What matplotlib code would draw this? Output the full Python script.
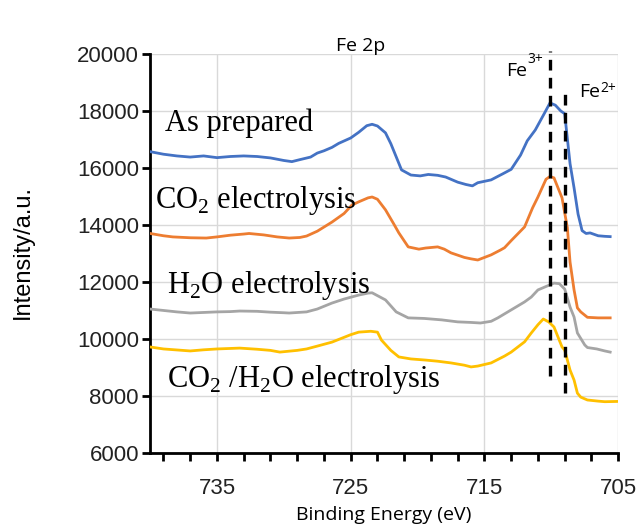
import matplotlib
matplotlib.use("Agg")
import matplotlib.pyplot as plt
from matplotlib.ticker import FixedLocator, NullFormatter

# Fe 2p XPS spectra (binding energy in eV, intensity in a.u.)
be_prepared = [740.0, 739.0, 738.0, 737.0, 736.0, 735.0, 734.0, 733.0, 732.0, 731.0,
               730.0, 729.4, 728.8, 728.0, 727.5, 727.0, 726.4, 725.9, 725.0, 724.4,
               723.8, 723.4, 723.0, 722.4, 722.0, 721.6, 721.2, 720.5, 719.8, 719.2,
               718.5, 717.9, 717.0, 716.4, 715.9, 715.5, 714.5, 713.6, 713.0, 712.3,
               711.8, 711.2, 710.5, 710.1, 709.7, 709.3, 709.0, 708.6, 708.3, 708.0,
               707.7, 707.4, 707.1, 706.5, 706.0, 705.6]
int_prepared = [16570, 16480, 16420, 16380, 16420, 16360, 16400, 16420, 16400, 16350,
                16260, 16220, 16290, 16380, 16520, 16600, 16720, 16860, 17050, 17250,
                17480, 17530, 17470, 17230, 16850, 16390, 15930, 15750, 15720, 15770,
                15740, 15680, 15500, 15420, 15370, 15480, 15580, 15800, 15950, 16450,
                16950, 17330, 17930, 18280, 18200, 18000, 17900, 16150, 15300, 14380,
                13800, 13700, 13720, 13620, 13600, 13590]

be_co2 = [740.0, 739.0, 738.3, 737.0, 735.8, 735.0, 734.0, 733.0, 732.6, 731.5,
          730.5, 729.6, 728.8, 728.3, 727.5, 726.4, 725.5, 724.9, 724.4, 723.7,
          723.4, 723.0, 722.4, 721.8, 721.4, 720.7, 719.9, 719.4, 718.5, 718.0,
          717.5, 716.5, 716.0, 715.5, 714.5, 713.8, 713.5, 713.0, 712.0, 711.4,
          711.0, 710.4, 710.1, 709.8, 709.2, 708.8, 708.6, 708.3, 708.05, 707.8,
          707.3, 706.5, 705.6]
int_co2 = [13700, 13620, 13580, 13550, 13540, 13580, 13640, 13680, 13700, 13650,
           13580, 13540, 13560, 13610, 13780, 14100, 14400, 14700, 14810, 14950,
           14980, 14900, 14530, 14050, 13720, 13230, 13150, 13190, 13230, 13150,
           13020, 12860, 12810, 12770, 12950, 13120, 13200, 13450, 13930, 14600,
           14980, 15600, 15700, 15650, 14950, 13900, 12700, 11720, 11090, 10950,
           10760, 10740, 10740]

be_h2o = [740.0, 739.0, 738.0, 737.0, 736.0, 735.0, 734.0, 733.3, 732.0, 731.0,
          730.0, 729.6, 728.3, 727.5, 726.4, 725.5, 724.4, 723.7, 723.4, 722.4,
          721.6, 720.7, 719.5, 718.2, 717.0, 716.0, 715.3, 714.5, 714.0, 713.0,
          712.0, 711.5, 711.0, 710.5, 709.8, 709.4, 709.0, 708.6, 708.3, 708.05,
          707.5, 707.3, 706.6, 706.0, 705.6]
int_h2o = [11050, 11000, 10950, 10910, 10930, 10950, 10960, 10980, 10970, 10940,
           10920, 10910, 10950, 11050, 11260, 11400, 11540, 11610, 11620, 11370,
           10950, 10740, 10720, 10670, 10600, 10580, 10560, 10620, 10740, 11020,
           11300, 11470, 11720, 11820, 11960, 11940, 11750, 11120, 10770, 10210,
           9790, 9700, 9650, 9580, 9540]

be_mixed = [740.0, 739.0, 737.0, 736.0, 735.0, 733.3, 732.0, 731.0, 730.3, 729.0,
            728.3, 727.5, 726.4, 725.0, 724.4, 723.5, 723.0, 722.7, 722.0, 721.4,
            720.5, 719.4, 718.5, 717.5, 716.5, 716.0, 715.5, 714.5, 713.5, 713.0,
            712.0, 711.5, 711.0, 710.6, 710.2, 709.8, 709.2, 709.0, 708.6, 708.3,
            708.05, 707.8, 707.3, 706.5, 706.0, 705.0]
int_mixed = [9720, 9650, 9580, 9620, 9650, 9680, 9640, 9600, 9540, 9600,
             9650, 9750, 9890, 10150, 10240, 10270, 10240, 9960, 9600, 9370,
             9300, 9260, 9220, 9160, 9080, 9020, 9050, 9160, 9400, 9540,
             9900, 10210, 10500, 10700, 10600, 10420, 9720, 9610, 8910, 8560,
             8100, 7960, 7860, 7820, 7800, 7810]

# reference positions for the oxidation-state markers
fe3_energy = 710.1
fe2_energy = 709.0

labels_serif = ["As prepared",
                r"CO$_{\mathregular{2}}$ electrolysis",
                r"H$_{\mathregular{2}}$O electrolysis",
                r"CO$_{\mathregular{2}}$ /H$_{\mathregular{2}}$O electrolysis"]
colors = ["#4472C4", "#ED7D31", "#A5A5A5", "#FFC000"]

fig = plt.figure(figsize=(6.36, 5.28), dpi=100)
ax = fig.add_axes([0.236, 0.142, 0.736, 0.756])

series = [(be_prepared, int_prepared), (be_co2, int_co2),
          (be_h2o, int_h2o), (be_mixed, int_mixed)]
for (e, i), c in zip(series, colors):
    ax.plot(e, i, color=c, lw=2.0, zorder=3)

# dashed markers for Fe3+ and Fe2+
ax.plot([fe3_energy, fe3_energy], [8700, 20100], color="black", lw=2.4,
        ls=(0, (3.2, 2.2)), zorder=4, clip_on=False)
ax.plot([fe2_energy, fe2_energy], [8100, 18800], color="black", lw=2.4,
        ls=(0, (3.2, 2.2)), zorder=4, clip_on=False)

ion_font = dict(family="Open Sans", va="baseline")

# Fe3+ : charge anchored at its right edge, symbol placed to its left
sup3 = ax.annotate("3+", (710.6, 19350), xytext=(0, 6.5),
                   textcoords="offset points", fontsize=10, ha="right",
                   **ion_font)
ax.annotate("Fe", (0.0, 0.0), xycoords=sup3, xytext=(0, -6.5),
            textcoords="offset points", fontsize=14, ha="right", **ion_font)

# Fe2+ : symbol anchored at its left edge, charge placed to its right
fe2 = ax.annotate("Fe", (707.9, 18490), fontsize=14, ha="left", **ion_font)
ax.annotate("2+", (1.0, 0.0), xycoords=fe2, xytext=(0, 6.5),
            textcoords="offset points", fontsize=10, ha="left", **ion_font)

# series annotations
label_pos = [(738.9, 17300), (739.6, 14600), (738.7, 11600), (738.7, 8320)]
for txt, (x, y) in zip(labels_serif, label_pos):
    ax.text(x, y, txt, family="Liberation Serif", fontsize=22, ha="left",
            va="baseline", zorder=5)

ax.set_xlim(740, 705)
ax.set_ylim(6000, 20000)
ax.set_yticks(range(6000, 20001, 2000))
ax.xaxis.set_major_locator(FixedLocator([735, 725, 715, 705]))
ax.xaxis.set_minor_locator(FixedLocator(list(range(705, 740, 2))))
ax.xaxis.set_minor_formatter(NullFormatter())

ax.grid(True, which="major", color="#D9D9D9", lw=1.0, zorder=0)
for s in ("top", "right"):
    ax.spines[s].set_visible(False)
for s in ("left", "bottom"):
    ax.spines[s].set_linewidth(2.0)
    ax.spines[s].set_color("black")

ax.tick_params(axis="both", which="both", direction="out", length=6, width=2,
               color="black")
ax.tick_params(axis="y", labelsize=16, pad=2)
ax.tick_params(axis="x", labelsize=16, pad=12)
for lab in ax.get_xticklabels() + ax.get_yticklabels():
    lab.set_family("Liberation Sans")
    lab.set_color("#222222")

fig.text(0.567, 0.912, "Fe 2p", family="Open Sans", fontsize=14, ha="center",
         va="center")
fig.text(0.603, 0.025, "Binding Energy (eV)", family="Open Sans", fontsize=14,
         ha="center", va="center")
fig.text(0.036, 0.523, "Intensity/a.u.", family="Liberation Sans", fontsize=17,
         rotation=90, ha="center", va="center")

fig.savefig("out.png", dpi=100)
